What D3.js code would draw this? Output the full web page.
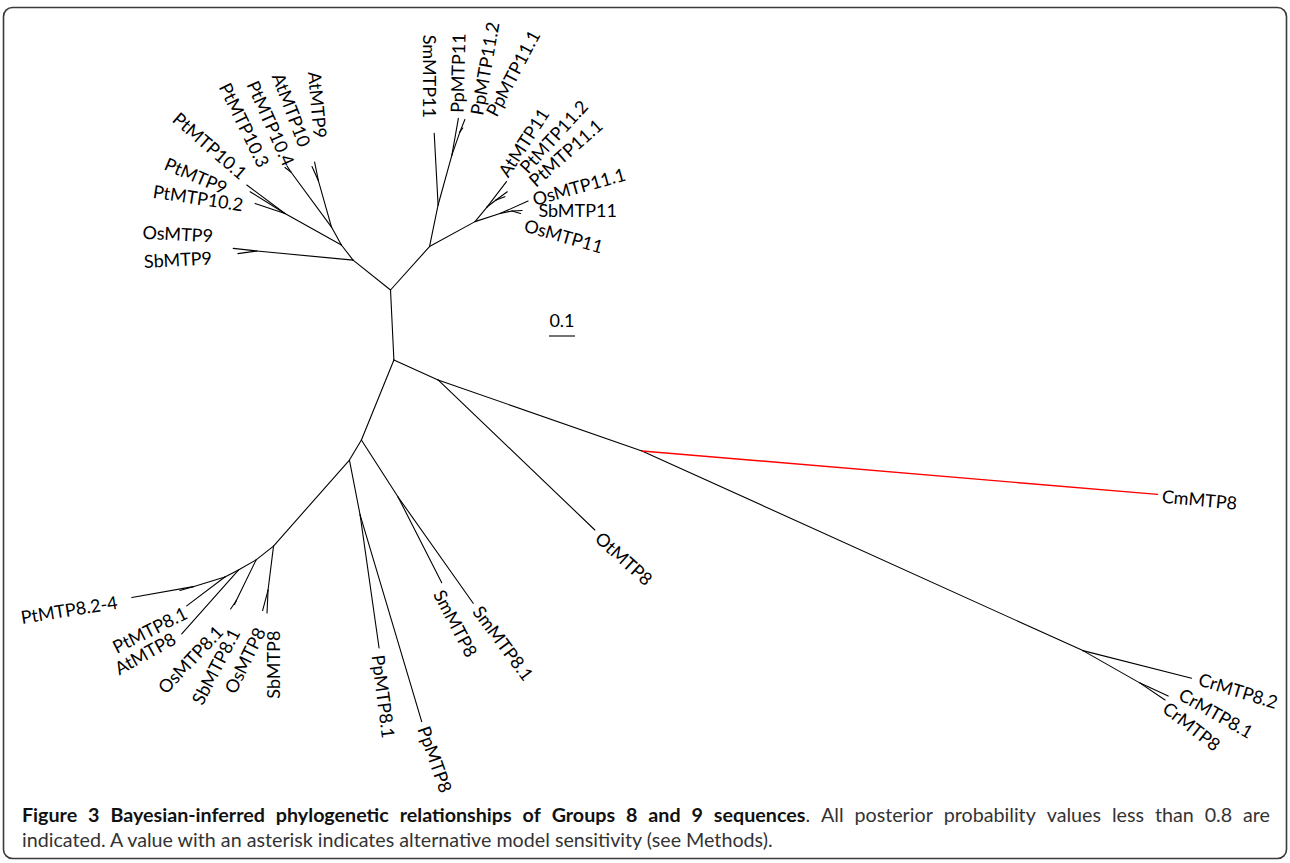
<!DOCTYPE html>
<html><head><meta charset="utf-8">
<script src="https://cdn.jsdelivr.net/npm/d3@7"></script>
<style>html,body{margin:0;padding:0;background:#fff;} svg{display:block}</style>
</head><body><svg id="chart" width="1290" height="863"></svg>
<script>
// ---- tree data: node ids, parents and node positions in branch-length units ----
const nodeIds = ["A","B","C","D","E","F","G","H","nSm","nPp","I","nQ8","J","nL8","K","M","nPt",
  "N","nOs9","O","S","P","Q","nPt10","U","V","W","X","Y","Z","Z2","YY","YZ",
  "CrMTP8.2","CrMTP8.1","CrMTP8","CmMTP8","OtMTP8","SmMTP8","SmMTP8.1","PpMTP8.1","PpMTP8",
  "SbMTP8","OsMTP8","OsMTP8.1","SbMTP8.1","AtMTP8","PtMTP8.1","PtMTP8.2-4","nPtLeaf",
  "OsMTP9","SbMTP9","PtMTP10.1","PtMTP9","PtMTP10.2","PtMTP10.4","PtMTP10.3","AtMTP10","AtMTP9",
  "SmMTP11","PpMTP11","PpMTP11.2","PpMTP11.1","AtMTP11","PtMTP11.2","PtMTP11.1","OsMTP11.1","SbMTP11","OsMTP11"];
const parentIds = [null,"A","B","B","D","C","F","G","D","E","E","I","I","J","J","K","M",
  "A","N","N","O","O","P","P","A","U","V","W","U","Y","Z","Y","YY",
  "G","H","H","F","C","nSm","nSm","nPp","nPp",
  "nQ8","nQ8","nL8","nL8","K","M","nPt","nPt",
  "nOs9","nOs9","S","S","S","nPt10","nPt10","Q","Q",
  "V","W","X","X","Z","Z2","Z2","YY","YZ","YZ"];
const nodeX = [0.002,0.015,0.185,-0.110,-0.156,0.969,2.665,2.885,0.031,-0.115,-0.448,-0.469,-0.515,-0.592,-0.583,-0.635,-0.757,
  -0.142,-0.512,-0.187,-0.404,-0.225,-0.275,-0.381,0.152,0.185,0.238,0.269,0.327,0.373,0.408,0.423,0.469,
  3.083,2.993,2.981,2.952,0.788,0.199,0.320,-0.042,0.122,
  -0.473,-0.490,-0.613,-0.598,-0.801,-0.782,-0.993,-0.808,
  -0.603,-0.585,-0.551,-0.538,-0.519,-0.396,-0.404,-0.300,-0.290,
  0.170,0.263,0.288,0.280,0.448,0.451,0.442,0.531,0.508,0.502];
const nodeY = [0.000,0.269,0.346,0.577,0.654,0.619,1.387,1.512,0.796,0.865,0.985,1.154,1.038,1.196,1.077,1.104,1.141,
  -0.115,-0.150,-0.173,-0.294,-0.242,-0.419,-0.454,-0.167,-0.327,-0.519,-0.608,-0.263,-0.319,-0.346,-0.294,-0.304,
  1.493,1.562,1.577,0.786,0.923,1.126,1.205,1.377,1.660,
  1.242,1.233,1.227,1.210,1.323,1.215,1.183,1.156,
  -0.160,-0.140,-0.404,-0.378,-0.333,-0.477,-0.471,-0.475,-0.492,
  -0.603,-0.660,-0.656,-0.623,-0.417,-0.378,-0.359,-0.342,-0.306,-0.294];
const highlightedBranches = ["CmMTP8"];
const scaleBarValue = 0.1;
const scaleBarLabel = "0.1";
const captionBold = "Figure 3 Bayesian-inferred phylogenetic relationships of Groups 8 and 9 sequences";
const captionRest1 = ". All posterior probability values less than 0.8 are";
const captionLine2 = "indicated. A value with an asterisk indicates alternative model sensitivity (see Methods).";

// ---- label layout: rotation (deg), anchor (s/e), nudge dx, dy (px) ----
const labelPlacement = {
  "CrMTP8.2":[17,"s",7.5,0.9], "CrMTP8.1":[29.6,"s",12.3,-2.8], "CrMTP8":[38,"s",0,6],
  "CmMTP8":[5.3,"s",4.5,2], "OtMTP8":[42,"s",3,5.7],
  "SmMTP8.1":[53.4,"s",3.7,5], "SmMTP8":[62.4,"s",-3.3,8.6],
  "PpMTP8.1":[82.7,"s",-1.3,7], "PpMTP8":[70.6,"s",1.6,5.3],
  "PtMTP8.2-4":[-9,"e",-14.4,4.8], "PtMTP8.1":[-26.7,"e",-0.7,6.2], "AtMTP8":[-29,"e",-7.3,3.6],
  "OsMTP8.1":[-46.5,"e",-10.7,19.8], "SbMTP8.1":[-62.4,"e",0.7,25.3], "OsMTP8":[-64,"e",-2,18.3],
  "SbMTP8":[-90,"e",7,17.7],
  "OsMTP9":[3,"e",-20.3,-12.3], "SbMTP9":[-3,"e",-26,4.5],
  "PtMTP10.2":[8.6,"e",-12,1.7], "PtMTP9":[23,"e",-24,-2.7], "PtMTP10.1":[41,"e",-2.7,-9],
  "PtMTP10.3":[64,"e",-21,-1.5], "PtMTP10.4":[66,"e",2,-1], "AtMTP10":[69,"e",-7,-20.5], "AtMTP9":[85,"e",5.5,-24],
  "SmMTP11":[90,"e",-5.3,-15.3], "PpMTP11":[-88.5,"s",-1.3,-5.5], "PpMTP11.2":[-80,"s",12,-4.5],
  "PpMTP11.1":[-62,"s",28.3,-13], "AtMTP11":[-57,"s",-3.5,-6.5], "PtMTP11.2":[-47.6,"s",16,-21.3],
  "PtMTP11.1":[-41.7,"s",27,-13.4], "OsMTP11.1":[-15.7,"s",5,-1.2], "SbMTP11":[0,"s",16.3,0.2],
  "OsMTP11":[16,"s",4.2,11.7]
};

const svg = d3.select("#chart");
const W = 1290, H = 863;
svg.append("rect").attr("x",3.5).attr("y",7.5).attr("width",1283).attr("height",851)
  .attr("rx",9).attr("fill","#fff").attr("stroke","#3a3a3a").attr("stroke-width",1.6);

const xScale = d3.scaleLinear().domain([0,1]).range([390,650]);
const yScale = d3.scaleLinear().domain([0,1]).range([290,550]);

const nodes = nodeIds.map((id,i)=>({id, parent:parentIds[i], x:nodeX[i], y:nodeY[i]}));
const byId = new Map(nodes.map(n=>[n.id,n]));
const edges = nodes.filter(n=>n.parent!==null).map(n=>({child:n, parent:byId.get(n.parent)}));

const g = svg.append("g");
g.selectAll("line.branch").data(edges).join("line")
  .attr("class","branch")
  .attr("x1",d=>xScale(d.parent.x)).attr("y1",d=>yScale(d.parent.y))
  .attr("x2",d=>xScale(d.child.x)).attr("y2",d=>yScale(d.child.y))
  .attr("stroke",d=>highlightedBranches.includes(d.child.id)?"#ff0000":"#000")
  .attr("stroke-width",d=>highlightedBranches.includes(d.child.id)?1.4:1.1)
  .attr("stroke-linecap","round");

const leaves = nodes.filter(n=>labelPlacement[n.id]);
g.selectAll("text.taxon").data(leaves).join("text")
  .attr("class","taxon")
  .attr("transform",d=>{const p=labelPlacement[d.id];
    return `translate(${xScale(d.x)+p[2]},${yScale(d.y)+p[3]}) rotate(${p[0]})`;})
  .attr("text-anchor",d=>labelPlacement[d.id][1]==="s"?"start":"end")
  .attr("dy","0.35em")
  .attr("font-family","Lato, 'Open Sans', sans-serif")
  .attr("font-size",18)
  .attr("fill","#000")
  .text(d=>d.id);

// scale bar
const sbX = 549, sbY = 336;
const sbLen = xScale(scaleBarValue) - xScale(0);
svg.append("line").attr("x1",sbX).attr("x2",sbX+sbLen).attr("y1",sbY).attr("y2",sbY)
  .attr("stroke","#000").attr("stroke-width",1.1);
svg.append("text").attr("x",sbX+sbLen/2).attr("y",sbY-9).attr("text-anchor","middle")
  .attr("font-family","Lato, sans-serif").attr("font-size",18).text(scaleBarLabel);

// caption
const capFont = "Lato, 'Open Sans', sans-serif";
const left = 22, right = 1270;
const probe = svg.append("text").attr("font-family",capFont).attr("font-size",16).text(captionLine2);
const fs = 16 * 751 / probe.node().getComputedTextLength();
probe.remove();
const line1Y = 822, line2Y = 847;
// tokens for justified first line
const tokens = captionBold.split(" ").map(w=>[[w,true]]);
tokens[tokens.length-1].push([captionRest1.split(" ")[0], false]);
captionRest1.split(" ").slice(1).forEach(w=>tokens.push([[w,false]]));
const tokEls = tokens.map(tok=>{
  const t = svg.append("text").attr("y",line1Y).attr("font-family",capFont).attr("font-size",fs);
  tok.forEach(([s,b])=>t.append("tspan").attr("font-weight",b?"700":"400").attr("fill",b?"#111":"#333").text(s));
  return t;
});
const widths = tokEls.map(t=>t.node().getComputedTextLength());
const gap = (right-left-d3.sum(widths))/(tokEls.length-1);
let cx = left;
tokEls.forEach((t,i)=>{t.attr("x",cx); cx += widths[i]+gap;});
svg.append("text").attr("x",left).attr("y",line2Y).attr("font-family",capFont).attr("font-size",fs)
  .attr("fill","#333").text(captionLine2);
</script></body></html>
